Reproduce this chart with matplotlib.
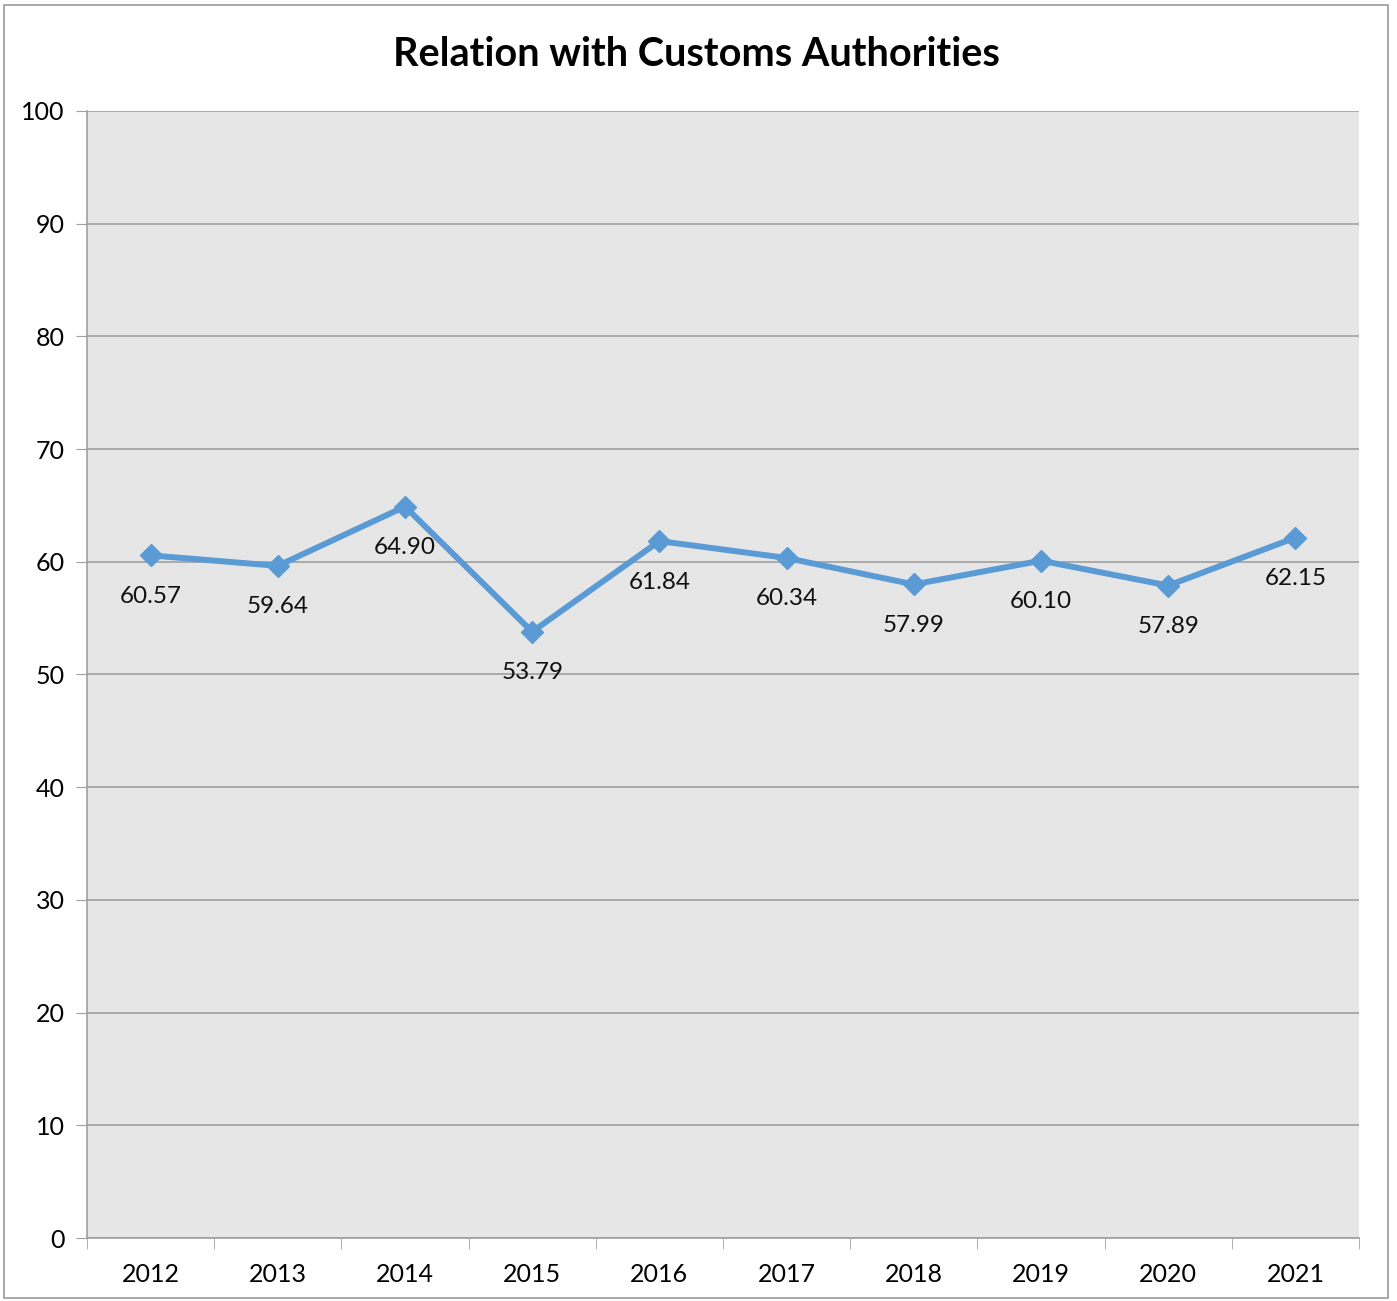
import matplotlib.pyplot as plt
from matplotlib.patches import Rectangle

years = ['2012', '2013', '2014', '2015', '2016', '2017', '2018', '2019', '2020', '2021']
scores = [60.57, 59.64, 64.90, 53.79, 61.84, 60.34, 57.99, 60.10, 57.89, 62.15]
yticks = [0, 10, 20, 30, 40, 50, 60, 70, 80, 90, 100]

plt.rcParams['font.family'] = ['Lato', 'DejaVu Sans']

fig = plt.figure(figsize=(13.97, 13.01), dpi=100)
ax = fig.add_axes([87/1397, 63/1301, (1359-87)/1397, (1238-111)/1301])
ax.set_facecolor('#e6e6e6')

x = range(len(years))
ax.plot(x, scores, color='#5b9bd5', lw=4.3, marker='D', ms=11, zorder=3)
for i, v in enumerate(scores):
    ax.annotate(f'{v:.2f}', (i, v), xytext=(0, -29.5), textcoords='offset points',
                ha='center', va='center', fontsize=17.5, color='#111111')

ax.set_xlim(-0.5, len(years) - 0.5)
ax.set_ylim(0, 100)
ax.set_yticks(yticks)
ax.set_yticklabels([str(t) for t in yticks], fontsize=18)
ax.yaxis.grid(True, color='#a0a0a0', lw=1.2)
ax.set_axisbelow(True)
ax.tick_params(axis='y', length=8, color='#a0a0a0', pad=8)

# category labels centred, ticks between categories
ax.set_xticks(list(x))
ax.set_xticklabels(years, fontsize=18)
ax.tick_params(axis='x', which='major', length=0, pad=18)
ax.set_xticks([i - 0.5 for i in range(len(years) + 1)], minor=True)
ax.tick_params(axis='x', which='minor', length=8, color='#a0a0a0')

for s in ['top', 'right']:
    ax.spines[s].set_visible(False)
for s in ['left', 'bottom']:
    ax.spines[s].set_color('#a0a0a0')
    ax.spines[s].set_linewidth(1.2)

fig.text(696/1397, 1 - 55/1301, 'Relation with Customs Authorities', ha='center', va='center',
         fontsize=28.5, fontweight='bold')

fig.patches.append(Rectangle((4/1397, 3/1301), (1388-4)/1397, (1296-3)/1301,
                             transform=fig.transFigure, fill=False, edgecolor='#9a9a9a', lw=1.2))

fig.savefig('out.png', dpi=100)
